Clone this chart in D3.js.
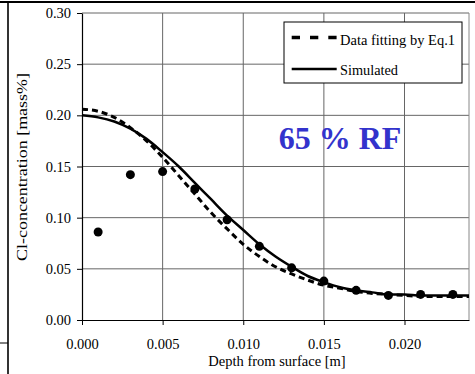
<!DOCTYPE html>
<html>
<head>
<meta charset="utf-8">
<script src="https://d3js.org/d3.v7.min.js"></script>
<style>
  body { margin: 0; background: #fff; }
  text { font-family: "Liberation Serif", "Times New Roman", serif; fill: #000; }
</style>
</head>
<body>
<div id="chart"></div>
<script>
// measured points
var depthPts = [0.001, 0.003, 0.005, 0.007, 0.009, 0.011, 0.013, 0.015, 0.017, 0.019, 0.021, 0.023];
var measured = [0.086, 0.142, 0.145, 0.128, 0.098, 0.072, 0.051, 0.038, 0.029, 0.024, 0.025, 0.025];

// curves
var depthLine = [0, 0.001, 0.002, 0.003, 0.004, 0.005, 0.006, 0.007, 0.008, 0.009, 0.010, 0.011, 0.012,
                 0.013, 0.014, 0.015, 0.016, 0.017, 0.018, 0.019, 0.020, 0.021, 0.022, 0.023, 0.024];
var simulated = [0.200, 0.198, 0.194, 0.187, 0.177, 0.164, 0.150, 0.134, 0.118, 0.102, 0.088, 0.074, 0.062,
                 0.052, 0.043, 0.037, 0.032, 0.029, 0.027, 0.025, 0.025, 0.024, 0.024, 0.024, 0.024];
var fitted = [0.206, 0.204, 0.198, 0.188, 0.175, 0.159, 0.141, 0.123, 0.105, 0.089, 0.074, 0.062, 0.052,
              0.045, 0.039, 0.034, 0.031, 0.028, 0.026, 0.025, 0.024, 0.023, 0.023, 0.023, 0.023];

var xTicks = [0, 0.005, 0.010, 0.015, 0.020];
var yTicks = [0, 0.05, 0.10, 0.15, 0.20, 0.25, 0.30];

var W = 475, H = 374;
var margin = {top: 13, right: 6, bottom: 54, left: 82};
var width = W - margin.left - margin.right,
    height = H - margin.top - margin.bottom;

var root = d3.select("#chart").append("svg")
    .attr("width", W).attr("height", H);

// outer frame bits
root.append("line").attr("x1", 0).attr("x2", W).attr("y1", 2).attr("y2", 2)
    .attr("stroke", "#000").attr("stroke-width", 2);
root.append("line").attr("x1", 8).attr("x2", 8).attr("y1", 3).attr("y2", H)
    .attr("stroke", "#333").attr("stroke-width", 2);
root.append("line").attr("x1", 0).attr("x2", 8).attr("y1", 343).attr("y2", 343)
    .attr("stroke", "#000").attr("stroke-width", 1);

var svg = root.append("g")
    .attr("transform", "translate(" + margin.left + "," + margin.top + ")");

var x = d3.scaleLinear().domain([0, 0.024]).range([0, width]);
var y = d3.scaleLinear().domain([0, 0.30]).range([height, 0]);

// grid
svg.selectAll(".vg").data(xTicks.slice(1)).enter().append("line")
    .attr("x1", d => x(d)).attr("x2", d => x(d)).attr("y1", 0).attr("y2", height)
    .attr("stroke", "#666").attr("stroke-width", 1);
svg.selectAll(".hg").data(yTicks.slice(1)).enter().append("line")
    .attr("x1", 0).attr("x2", width).attr("y1", d => y(d)).attr("y2", d => y(d))
    .attr("stroke", "#666").attr("stroke-width", 1);
svg.append("line").attr("x1", width).attr("x2", width).attr("y1", 0).attr("y2", height)
    .attr("stroke", "#888").attr("stroke-width", 1);

// axes
var xAxis = svg.append("g").attr("transform", "translate(0," + height + ")")
    .call(d3.axisBottom(x).tickValues(xTicks).tickFormat(d3.format(".3f")).tickSizeInner(5).tickSizeOuter(0).tickPadding(14));
var yAxis = svg.append("g")
    .call(d3.axisLeft(y).tickValues(yTicks).tickFormat(d3.format(".2f")).tickSizeInner(5).tickSizeOuter(0).tickPadding(6));
[xAxis, yAxis].forEach(function(a) {
  a.attr("font-family", null);
  a.select(".domain").attr("stroke", "#000").attr("stroke-width", 1.2);
  a.selectAll(".tick line").attr("stroke", "#000");
  a.selectAll("text").style("font-family", "'Liberation Serif', serif").style("font-size", "14.5px");
});

// curves
var line = d3.line().x(d => x(d[0])).y(d => y(d[1])).curve(d3.curveMonotoneX);
svg.append("path").datum(depthLine.map((d, i) => [d, simulated[i]]))
    .attr("fill", "none").attr("stroke", "#000").attr("stroke-width", 2.5).attr("d", line);
svg.append("path").datum(depthLine.map((d, i) => [d, fitted[i]]))
    .attr("fill", "none").attr("stroke", "#000").attr("stroke-width", 3)
    .attr("stroke-dasharray", "6,4").attr("d", line);

// measured dots
svg.selectAll(".dot").data(depthPts).enter().append("circle")
    .attr("cx", d => x(d)).attr("cy", (d, i) => y(measured[i])).attr("r", 4.5)
    .attr("fill", "#000");

// legend
var lg = root.append("g").attr("transform", "translate(284,22)");
lg.append("rect").attr("width", 178).attr("height", 61).attr("fill", "#fff")
    .attr("stroke", "#000").attr("stroke-width", 1);
lg.append("line").attr("x1", 7.7).attr("x2", 52.7).attr("y1", 15.5).attr("y2", 15.5)
    .attr("stroke", "#000").attr("stroke-width", 3.5).attr("stroke-dasharray", "8.3,10");
lg.append("text").attr("x", 56).attr("y", 23).style("font-size", "15px")
    .attr("textLength", 115).attr("lengthAdjust", "spacingAndGlyphs").text("Data fitting by Eq.1");
lg.append("line").attr("x1", 7.7).attr("x2", 52.7).attr("y1", 47).attr("y2", 47)
    .attr("stroke", "#000").attr("stroke-width", 2.5);
lg.append("text").attr("x", 56).attr("y", 53).style("font-size", "15px")
    .attr("textLength", 58).attr("lengthAdjust", "spacingAndGlyphs").text("Simulated");

// annotation
root.append("text").attr("x", 340).attr("y", 149).attr("text-anchor", "middle")
    .style("font-size", "32px").style("font-weight", "bold").style("fill", "#3333cc")
    .text("65 % RF");

// axis titles
root.append("text").attr("x", 277).attr("y", 366).attr("text-anchor", "middle")
    .style("font-size", "14.5px").text("Depth from surface [m]");
root.append("text").attr("transform", "translate(27,167) rotate(-90)").attr("text-anchor", "middle")
    .style("font-size", "15px").attr("textLength", 188).attr("lengthAdjust", "spacingAndGlyphs")
    .text("Cl-concentration [mass%]");
</script>
</body>
</html>
